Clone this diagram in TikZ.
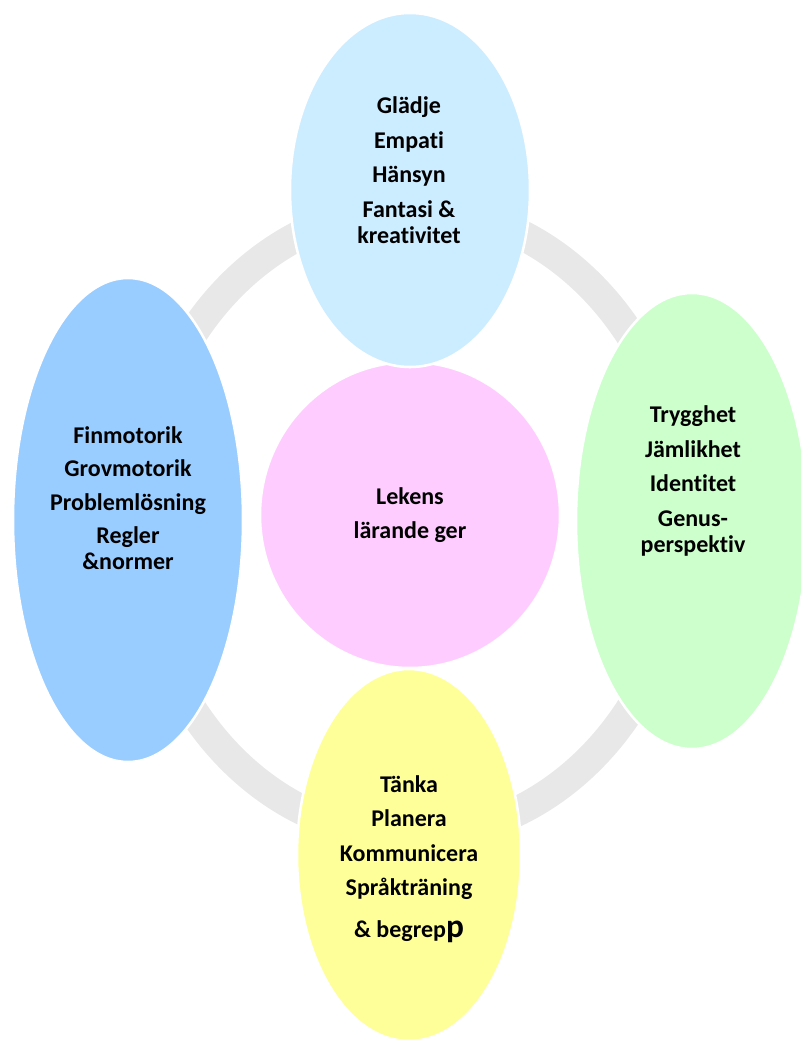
\documentclass[tikz,border=0pt]{standalone}
\usepackage{fontspec}
\setmainfont{Carlito}[Ligatures=NoCommon]
\definecolor{ringgray}{HTML}{E8E8E8}
\definecolor{topblue}{HTML}{CCECFF}
\definecolor{leftblue}{HTML}{99CCFF}
\definecolor{rightgreen}{HTML}{CCFFCC}
\definecolor{bottomyellow}{HTML}{FFFF99}
\definecolor{centerpink}{HTML}{FFCCFF}
\tikzset{
	petal/.style={draw=white, line width=1.9pt},
	petaltext/.style={align=center, text=black, font=\fontsize{18}{19.5}\selectfont\bfseries},
}
\begin{document}
\begin{tikzpicture}[x=0.75pt,y=-0.75pt]
	\useasboundingbox (0,0) rectangle (801,1042);
	\clip (0,0) rectangle (801,1042);
	% grey ring behind everything
	\draw[ringgray, line width=22.5pt] (411,522) ellipse [x radius=273, y radius=314];
	% centre
	\filldraw[petal, fill=centerpink] (410,515) ellipse [x radius=150, y radius=153];
%	\draw[red] (410,515) circle (3);
	% the four ellipses round it
	\filldraw[petal, fill=topblue] (410,190) ellipse [x radius=120, y radius=177];
	\filldraw[petal, fill=leftblue] (128,520) ellipse [x radius=115, y radius=242];
	\filldraw[petal, fill=rightgreen] (692,521) ellipse [x radius=116, y radius=228];
	\filldraw[petal, fill=bottomyellow] (409,855) ellipse [x radius=112, y radius=186];
	% texts
	\node[petaltext] (topnote) at (409,170) {Glädje\\[6.5pt]Empati\\[6.5pt]Hänsyn\\[6.5pt]Fantasi \&\\kreativitet};
	\node[petaltext] (leftnote) at (128,498) {Finmotorik\\[5.5pt]Grovmotorik\\[5.5pt]Problemlösning\\[5.5pt]Regler\\\&normer};
	\node[petaltext] (centernote) at (410,515) {Lekens\\[5.5pt]lärande ger};
	\node[petaltext] (rightnote) at (693,481) {Trygghet\\[6.5pt]Jämlikhet\\[6.5pt]Identitet\\[6.5pt]Genus-\\perspektiv};
	\node[petaltext] (bottomnote) at (409,859) {Tänka\\[6pt]Planera\\[6.5pt]Kommunicera\\[6pt]Språkträning\\[12pt]\& begrep{\fontsize{25}{27}\selectfont p}};
\end{tikzpicture}
\end{document}
